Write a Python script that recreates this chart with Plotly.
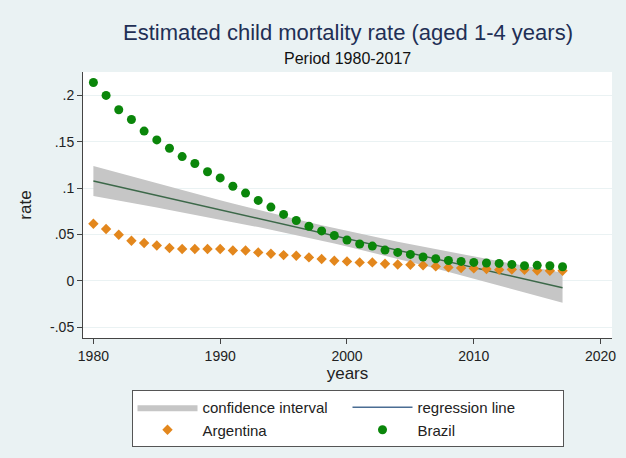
import numpy as np
import plotly.graph_objects as go

# Child mortality rate (aged 1-4), 1980-2017
years = list(range(1980, 2018))

argentina = [0.0615, 0.0558, 0.0496, 0.0432, 0.0407, 0.0381, 0.0353, 0.0342, 0.0342, 0.0342,
             0.0342, 0.0327, 0.0327, 0.0306, 0.0291, 0.0277, 0.0270, 0.0252, 0.0234, 0.0216,
             0.0209, 0.0198, 0.0198, 0.0183, 0.0176, 0.0173, 0.0166, 0.0155, 0.0144, 0.0137,
             0.0133, 0.0126, 0.0119, 0.0122, 0.0119, 0.0111, 0.0108, 0.0108]

brazil = [0.2140, 0.2000, 0.1846, 0.1740, 0.1615, 0.1520, 0.1430, 0.1340, 0.1266, 0.1176,
          0.1110, 0.1020, 0.0946, 0.0867, 0.0795, 0.0716, 0.0650, 0.0588, 0.0538, 0.0488,
          0.0440, 0.0396, 0.0374, 0.0331, 0.0306, 0.0284, 0.0256, 0.0237, 0.0219, 0.0209,
          0.0198, 0.0191, 0.0187, 0.0176, 0.0162, 0.0166, 0.0162, 0.0151]

y_tick_vals = [-0.05, 0, 0.05, 0.1, 0.15, 0.2]
y_tick_text = ["-.05", "0", ".05", ".1", ".15", ".2"]
x_tick_vals = [1980, 1990, 2000, 2010, 2020]

# Pooled linear fit with 95% CI of the mean prediction
x_all = np.array(years + years, dtype=float)
y_all = np.array(argentina + brazil)
n = len(x_all)
slope, intercept = np.polyfit(x_all, y_all, 1)
fit_x = np.array(years, dtype=float)
fit_y = intercept + slope * fit_x
resid = y_all - (intercept + slope * x_all)
s = np.sqrt(np.sum(resid ** 2) / (n - 2))
xbar = x_all.mean()
sxx = np.sum((x_all - xbar) ** 2)
se = s * np.sqrt(1.0 / n + (fit_x - xbar) ** 2 / sxx)
t_crit = 1.9925
lo = fit_y - t_crit * se
hi = fit_y + t_crit * se

BG = "#eaf2f3"
FONT = "Liberation Sans, Arial, sans-serif"
MARGIN_T, MARGIN_B = 72, 120
PLOT_H = 458 - MARGIN_T - MARGIN_B

fig = go.Figure()

fig.add_trace(go.Scatter(
    x=np.concatenate([fit_x, fit_x[::-1]]), y=np.concatenate([hi, lo[::-1]]),
    fill="toself", fillcolor="#c6c6c6", line=dict(width=0),
    mode="lines", name="confidence interval", hoverinfo="skip",
))
fig.add_trace(go.Scatter(
    x=fit_x, y=fit_y, mode="lines", line=dict(color="#3c6849", width=1.4),
    name="regression line", showlegend=False,
))
# legend key for the fitted line
fig.add_trace(go.Scatter(
    x=[None], y=[None], mode="lines", line=dict(color="#4a6d93", width=1.6),
    name="regression line",
))
fig.add_trace(go.Scatter(
    x=years, y=argentina, mode="markers", name="Argentina",
    marker=dict(symbol="diamond", size=8, color="#e3871d"),
))
fig.add_trace(go.Scatter(
    x=years, y=brazil, mode="markers", name="Brazil",
    marker=dict(symbol="circle", size=9, color="#0a860a"),
))


def px_to_paper_y(py):
    return 1 + (MARGIN_T - py) / PLOT_H


fig.update_layout(
    width=626, height=458,
    margin=dict(l=83, r=10, t=MARGIN_T, b=MARGIN_B),
    paper_bgcolor=BG, plot_bgcolor="white",
    font=dict(family=FONT, size=14, color="#222222"),
    showlegend=True,
    legend=dict(
        orientation="h", x=0.5, xanchor="center", y=px_to_paper_y(390), yanchor="top",
        bgcolor="white", bordercolor="#555555", borderwidth=1,
        itemwidth=60, entrywidth=140, font=dict(size=15, color="#222222"),
        traceorder="normal", tracegroupgap=0,
    ),
    annotations=[
        dict(text="Estimated child mortality rate (aged 1-4 years)", x=0.5,
             y=px_to_paper_y(33), yanchor="middle",
             xref="paper", yref="paper", showarrow=False,
             font=dict(size=22, color="#1f2f55")),
        dict(text="Period 1980-2017", x=0.5, y=px_to_paper_y(59), yanchor="middle",
             xref="paper", yref="paper", showarrow=False,
             font=dict(size=16, color="#111111")),
    ],
)

fig.update_xaxes(
    range=[1979.18, 2020.9], tickvals=x_tick_vals, ticks="outside", ticklen=5,
    tickcolor="#444444", showline=True, linecolor="#444444", linewidth=1,
    showgrid=False, zeroline=False, title=dict(text="years", standoff=2),
    tickfont=dict(size=14),
)
fig.update_yaxes(
    range=[-0.0618, 0.2253], tickvals=y_tick_vals, ticktext=y_tick_text,
    ticks="outside", ticklen=5, tickcolor="#444444", showline=True,
    linecolor="#444444", linewidth=1, showgrid=True, gridcolor=BG, gridwidth=1,
    zeroline=False, title=dict(text="rate", standoff=14), tickfont=dict(size=14),
)

fig.write_html("out.html")
